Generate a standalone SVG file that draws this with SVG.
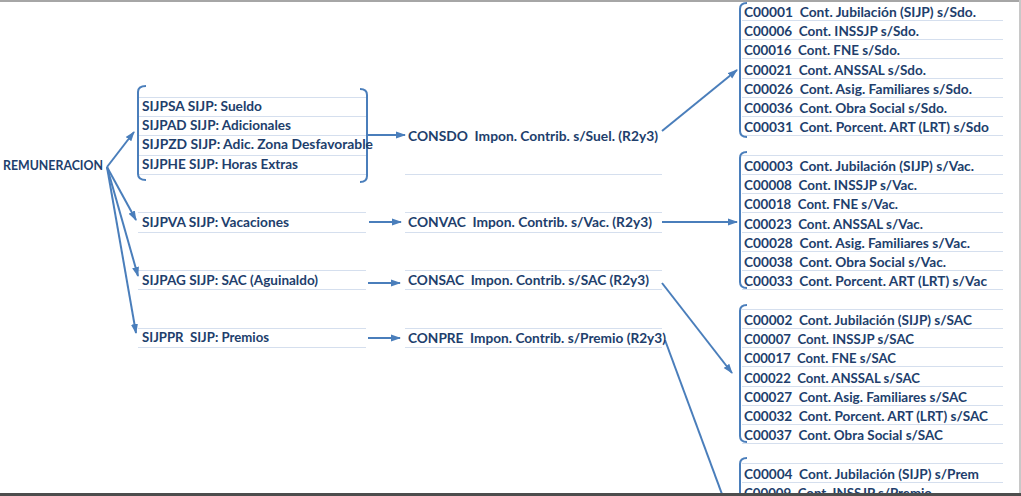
<svg xmlns="http://www.w3.org/2000/svg" width="1021" height="496" viewBox="0 0 1021 496" xml:space="preserve">
<style>
.t{font-family:Lato,"Open Sans","Liberation Sans",sans-serif;font-weight:700;font-size:13px;fill:#213e6c;white-space:pre}
.g{stroke:#d5dfee;stroke-width:1;fill:none}
.c{stroke:#4a7ebb;stroke-width:2;fill:none}
.a{marker-end:url(#ah)}
</style>
<defs>
<marker id="ah" markerUnits="userSpaceOnUse" markerWidth="10" markerHeight="8" refX="9" refY="4" orient="auto"><path d="M0,0.5 L10,4 L0,7.5 z" fill="#4a7ebb"/></marker>
</defs>
<rect width="1021" height="496" fill="#fff"/>
<g id="grid">
<path class="g" d="M138,97.5H366M138,116.5H366M138,135.5H366M138,155.5H366M138,174.5H366M138,212.5H366M138,232.5H366M138,270.5H366M138,289.5H366M138,328.5H366M138,347.5H366"/>
<path class="g" d="M405,174.5H662M405,212.5H662M405,232.5H662M405,270.5H662M405,289.5H662M405,328.5H662M405,347.5H662"/>
<path class="g" d="M742,20.5H1003M742,39.5H1003M742,58.5H1003M742,78.5H1003M742,97.5H1003M742,116.5H1003M742,135.5H1003M742,155.5H1003M742,174.5H1003M742,193.5H1003M742,212.5H1003M742,232.5H1003M742,251.5H1003M742,270.5H1003M742,289.5H1003M742,309.5H1003M742,328.5H1003M742,347.5H1003M742,366.5H1003M742,386.5H1003M742,405.5H1003M742,424.5H1003M742,443.5H1003M742,463.5H1003M742,482.5H1003"/>
</g>
<g id="connectors">
<path class="c" d="M146,86 Q138,86 138,92 L138,174 Q138,180 146,180"/>
<path class="c" d="M360,89 Q367,89 367,95 L367,176 Q367,182 360,182"/>
<path class="c" d="M747,3 Q740,3 740,9 L740,131 Q740,137 747,137"/>
<path class="c" d="M747,152 Q740,152 740,158 L740,282 Q740,288 747,288"/>
<path class="c" d="M747,305 Q740,305 740,311 L740,436 Q740,442 747,442"/>
<path class="c" d="M747,458 Q740,458 740,464 L740,520"/>
<line class="c a" x1="107" y1="167" x2="134" y2="132"/>
<line class="c a" x1="107" y1="167" x2="136" y2="220"/>
<line class="c a" x1="107" y1="167" x2="138" y2="276"/>
<line class="c a" x1="107" y1="167" x2="136" y2="333"/>
<line class="c a" x1="367" y1="135" x2="405" y2="135"/>
<line class="c a" x1="369" y1="222" x2="401" y2="222"/>
<line class="c a" x1="368" y1="283" x2="400" y2="283"/>
<line class="c a" x1="368" y1="338" x2="400" y2="338"/>
<line class="c a" x1="662" y1="131" x2="737" y2="70"/>
<line class="c a" x1="662" y1="222" x2="737" y2="222"/>
<line class="c a" x1="662" y1="283" x2="732" y2="373"/>
<line class="c" x1="665" y1="340" x2="726" y2="505"/>
</g>
<g id="REMUNERACION"><text class="t" x="3" y="169.5" textLength="100" lengthAdjust="spacingAndGlyphs">REMUNERACION</text></g>
<g id="SIJP-group">
<text class="t" x="142" y="110.8" textLength="120" lengthAdjust="spacingAndGlyphs">SIJPSA SIJP: Sueldo</text>
<text class="t" x="142" y="130.1" textLength="149" lengthAdjust="spacingAndGlyphs">SIJPAD SIJP: Adicionales</text>
<text class="t" x="142" y="149.4" textLength="231" lengthAdjust="spacingAndGlyphs">SIJPZD SIJP: Adic. Zona Desfavorable</text>
<text class="t" x="142" y="168.6" textLength="156" lengthAdjust="spacingAndGlyphs">SIJPHE SIJP: Horas Extras</text>
</g>
<g id="SIJPVA"><text class="t" x="142" y="227" textLength="147" lengthAdjust="spacingAndGlyphs">SIJPVA SIJP: Vacaciones</text></g>
<g id="SIJPAG"><text class="t" x="142" y="284.5" textLength="176" lengthAdjust="spacingAndGlyphs">SIJPAG SIJP: SAC (Aguinaldo)</text></g>
<g id="SIJPPR"><text class="t" x="142" y="342.1" textLength="127" lengthAdjust="spacingAndGlyphs">SIJPPR  SIJP: Premios</text></g>
<g id="CONSDO"><text class="t" x="408" y="140.6" textLength="250" lengthAdjust="spacingAndGlyphs">CONSDO  Impon. Contrib. s/Suel. (R2y3)</text></g>
<g id="CONVAC"><text class="t" x="408" y="227.3" textLength="244" lengthAdjust="spacingAndGlyphs">CONVAC  Impon. Contrib. s/Vac. (R2y3)</text></g>
<g id="CONSAC"><text class="t" x="408" y="284.9" textLength="241" lengthAdjust="spacingAndGlyphs">CONSAC  Impon. Contrib. s/SAC (R2y3)</text></g>
<g id="CONPRE"><text class="t" x="408" y="342.6" textLength="258" lengthAdjust="spacingAndGlyphs">CONPRE  Impon. Contrib. s/Premio (R2y3)</text></g>
<g id="list-sdo">
<text class="t" x="744" y="16.7" textLength="232" lengthAdjust="spacingAndGlyphs">C00001  Cont. Jubilación (SIJP) s/Sdo.</text>
<text class="t" x="744" y="36" textLength="175" lengthAdjust="spacingAndGlyphs">C00006  Cont. INSSJP s/Sdo.</text>
<text class="t" x="744" y="55.2" textLength="156" lengthAdjust="spacingAndGlyphs">C00016  Cont. FNE s/Sdo.</text>
<text class="t" x="744" y="74.5" textLength="182" lengthAdjust="spacingAndGlyphs">C00021  Cont. ANSSAL s/Sdo.</text>
<text class="t" x="744" y="93.7" textLength="228" lengthAdjust="spacingAndGlyphs">C00026  Cont. Asig. Familiares s/Sdo.</text>
<text class="t" x="744" y="113" textLength="203" lengthAdjust="spacingAndGlyphs">C00036  Cont. Obra Social s/Sdo.</text>
<text class="t" x="744" y="132.2" textLength="245" lengthAdjust="spacingAndGlyphs">C00031  Cont. Porcent. ART (LRT) s/Sdo</text>
</g>
<g id="list-vac">
<text class="t" x="744" y="170.7" textLength="230" lengthAdjust="spacingAndGlyphs">C00003  Cont. Jubilación (SIJP) s/Vac.</text>
<text class="t" x="744" y="190" textLength="173" lengthAdjust="spacingAndGlyphs">C00008  Cont. INSSJP s/Vac.</text>
<text class="t" x="744" y="209.2" textLength="154" lengthAdjust="spacingAndGlyphs">C00018  Cont. FNE s/Vac.</text>
<text class="t" x="744" y="228.5" textLength="179" lengthAdjust="spacingAndGlyphs">C00023  Cont. ANSSAL s/Vac.</text>
<text class="t" x="744" y="247.7" textLength="226" lengthAdjust="spacingAndGlyphs">C00028  Cont. Asig. Familiares s/Vac.</text>
<text class="t" x="744" y="267" textLength="202" lengthAdjust="spacingAndGlyphs">C00038  Cont. Obra Social s/Vac.</text>
<text class="t" x="744" y="286.2" textLength="243" lengthAdjust="spacingAndGlyphs">C00033  Cont. Porcent. ART (LRT) s/Vac</text>
</g>
<g id="list-sac">
<text class="t" x="744" y="324.7" textLength="228" lengthAdjust="spacingAndGlyphs">C00002  Cont. Jubilación (SIJP) s/SAC</text>
<text class="t" x="744" y="344" textLength="170" lengthAdjust="spacingAndGlyphs">C00007  Cont. INSSJP s/SAC</text>
<text class="t" x="744" y="363.2" textLength="152" lengthAdjust="spacingAndGlyphs">C00017  Cont. FNE s/SAC</text>
<text class="t" x="744" y="382.5" textLength="176" lengthAdjust="spacingAndGlyphs">C00022  Cont. ANSSAL s/SAC</text>
<text class="t" x="744" y="401.7" textLength="223" lengthAdjust="spacingAndGlyphs">C00027  Cont. Asig. Familiares s/SAC</text>
<text class="t" x="744" y="421" textLength="244" lengthAdjust="spacingAndGlyphs">C00032  Cont. Porcent. ART (LRT) s/SAC</text>
<text class="t" x="744" y="440.2" textLength="199" lengthAdjust="spacingAndGlyphs">C00037  Cont. Obra Social s/SAC</text>
</g>
<g id="list-prem">
<text class="t" x="744" y="478.7" textLength="235" lengthAdjust="spacingAndGlyphs">C00004  Cont. Jubilación (SIJP) s/Prem</text>
<text class="t" x="744" y="497.9" textLength="188" lengthAdjust="spacingAndGlyphs">C00009  Cont. INSSJP s/Premio</text>
</g>
<g id="frame">
<rect x="0" y="0" width="1021" height="2" fill="#a6a6a6"/>
<rect x="1019" y="0" width="2" height="496" fill="#c8c8c8"/>
<rect x="0" y="493" width="1021" height="3" fill="#4d4d4d"/>
</g>
</svg>
